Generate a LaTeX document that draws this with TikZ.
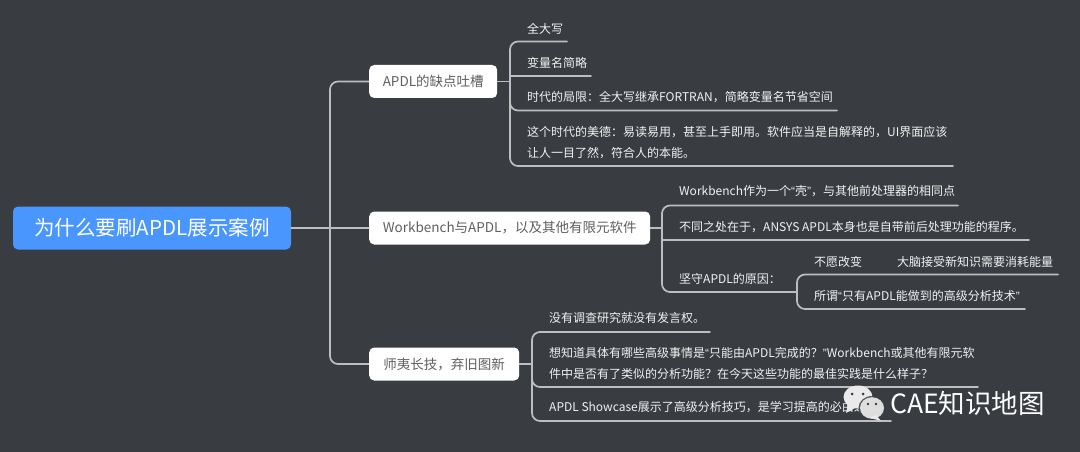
\documentclass[tikz,border=0pt]{standalone}
\usepackage{fontspec}
\setmainfont{Noto Sans CJK SC}
\newfontfamily\quotefont{Liberation Sans}
\newcommand{\qo}{{\quotefont “}}
\newcommand{\qc}{{\quotefont ”}}
\definecolor{bgc}{HTML}{393C41}
\definecolor{rootc}{HTML}{4A96FF}
\definecolor{linec}{HTML}{BEBEBE}
\definecolor{boxtxt}{HTML}{5F5F5F}
\definecolor{leaftxt}{HTML}{F2F2F2}
\definecolor{wechatc}{HTML}{EAEAEA}
\tikzset{
  rootbox/.style={fill=rootc,rounded corners=5pt,text=white,minimum width=278pt,minimum height=43pt,inner sep=0pt,font=\fontsize{20.5}{24}\selectfont},
  topicbox/.style={fill=white,rounded corners=5pt,text=boxtxt,minimum height=33pt,inner sep=0pt,anchor=west,font=\fontsize{13.5}{16}\selectfont},
  leaf/.style={text=leaftxt,inner sep=0pt,anchor=west,align=left,font=\fontsize{12}{21}\selectfont},
  link/.style={draw=linec,line width=1.7pt,rounded corners=8pt,line cap=round},
  straight/.style={draw=linec,line width=1.7pt,line cap=round},
}
\begin{document}
\begin{tikzpicture}[x=1pt,y=-1pt]
\useasboundingbox (0,0) rectangle (1080,452);
\fill[bgc] (0,0) rectangle (1080,452);
% hubs
\coordinate (root hub) at (330,228);
\coordinate (h1) at (510,81.5);
\coordinate (h2) at (662,228);
\coordinate (h3) at (532,364);
\coordinate (h4) at (797,292);
% underline ends
\coordinate (u11) at (567,41.5);
\coordinate (u12) at (591,76);
\coordinate (u13) at (837,110.5);
\coordinate (u14) at (953,166);
\coordinate (u21) at (958,205.5);
\coordinate (u22) at (1029,240);
\coordinate (u23) at (797,292);
\coordinate (u41) at (1058,274.5);
\coordinate (u42) at (1025,309);
\coordinate (u31) at (710,332);
\coordinate (u32) at (978,387);
\coordinate (u33) at (891,421);
% connectors
\draw[link] (root hub) |- (369,81.5) coordinate (t1in);
\draw[link] (root hub) |- (369,364) coordinate (t3in);
\draw[link] (h1) |- (u11);
\draw[straight] (h1) -- (h1|-u12) -- (u12);
\draw[link] (h1) |- (u13);
\draw[link] (h1) |- (u14);
\draw[link] (h2) |- (u21);
\draw[straight] (h2) -- (h2|-u22) -- (u22);
\draw[link] (h2) |- (u23);
\draw[link] (h4) |- (u41);
\draw[link] (h4) |- (u42);
\draw[link] (h3) |- (u31);
\draw[link] (h3) |- (u32);
\draw[link] (h3) |- (u33);
% nodes
\node[rootbox] (root) at (152,228) {为什么要刷APDL展示案例};
\node[topicbox,minimum width=128pt] (t1) at (369,81.5) {APDL的缺点吐槽};
\node[topicbox,minimum width=281pt] (t2) at (369,228) {Workbench与APDL，以及其他有限元软件};
\node[topicbox,minimum width=150pt] (t3) at (369,364) {师夷长技，弃旧图新};
\draw[straight] (root.east) -- (t2.west);
\draw[straight] (t1.east) -- (h1);
\draw[straight] (t2.east) -- (h2);
\draw[straight] (t3.east) -- (h3);
% leaves
\node[leaf] (l11) at (527,28.5) {全大写};
\node[leaf] (l12) at (527,62.5) {变量名简略};
\node[leaf] (l13) at (527,97.5) {时代的局限：全大写继承FORTRAN，简略变量名节省空间};
\node[leaf] (l14) at (527,143) {这个时代的美德：易读易用，甚至上手即用。软件应当是自解释的，UI界面应该\\让人一目了然，符合人的本能。};
\node[leaf] (l21) at (679,191.5) {Workbench作为一个\qo 壳\qc，与其他前处理器的相同点};
\node[leaf] (l22) at (679,227.5) {不同之处在于，ANSYS APDL本身也是自带前后处理功能的程序。};
\node[leaf] (l23) at (679,278.5) {坚守APDL的原因：};
\node[leaf] (l41) at (814,261.5) {不愿改变};
\node[leaf] (l42) at (897,261.5) {大脑接受新知识需要消耗能量};
\node[leaf] (l43) at (814,295.5) {所谓\qo 只有APDL能做到的高级分析技术\qc};
\node[leaf] (l31) at (549,317.5) {没有调查研究就没有发言权。};
\node[leaf] (l32) at (549,363) {想知道具体有哪些高级事情是\qo 只能由APDL完成的？\qc Workbench或其他有限元软\\件中是否有了类似的分析功能？在今天这些功能的最佳实践是什么样子？};
\node[leaf] (l33) at (549,407.5) {APDL Showcase展示了高级分析技巧，是学习提高的必由之路。};
% watermark
\fill[wechatc] (858,397) ellipse (14.5pt and 11.5pt);
\fill[wechatc] (848,404) -- (846,413) -- (855,408) -- cycle;
\fill[bgc] (852,394) circle (1.5pt) (863,394) circle (1.5pt);
\fill[bgc,opacity=.85] (872,408) ellipse (13.5pt and 12pt);
\fill[wechatc,opacity=.93] (872,408) ellipse (12pt and 10.8pt);
\fill[wechatc] (876,415) -- (881,421) -- (869,417.5) -- cycle;
\fill[bgc] (868,404) circle (1.4pt) (876,404) circle (1.4pt);
\node[inner sep=0pt,anchor=west,text=white,font=\fontsize{26.5}{30}\selectfont] (wm) at (890,403) {CAE知识地图};
\end{tikzpicture}
\end{document}
